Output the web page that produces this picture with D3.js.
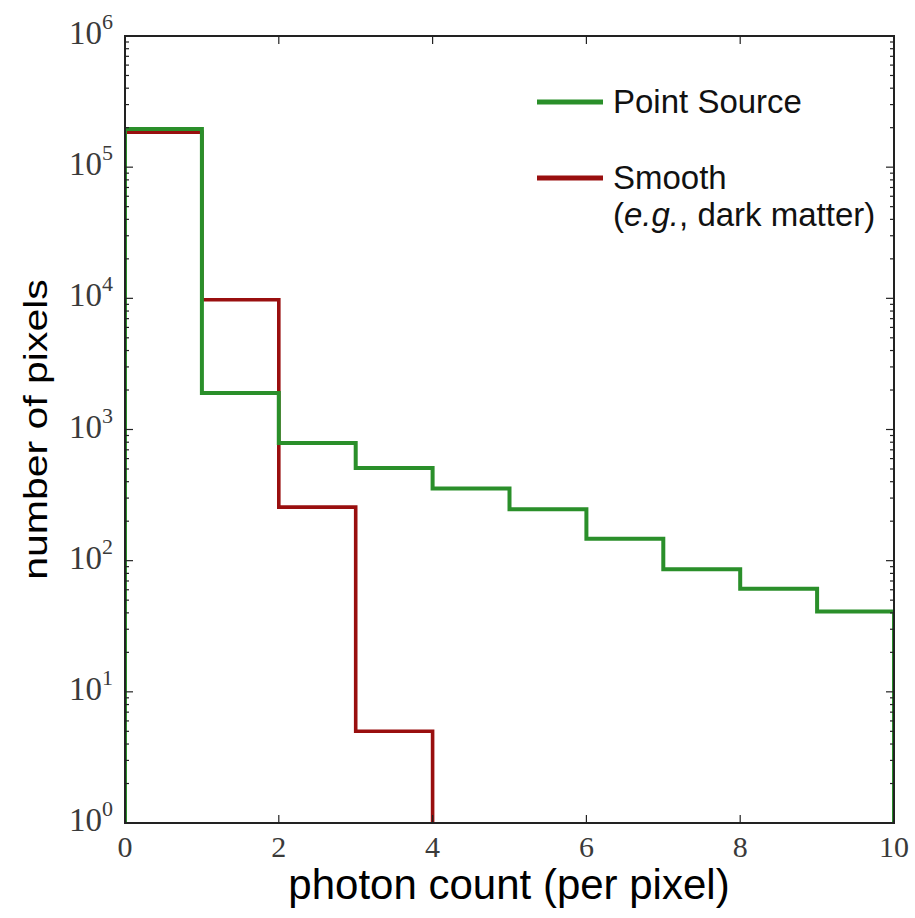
<!DOCTYPE html>
<html>
<head>
<meta charset="utf-8">
<script src="https://cdn.jsdelivr.net/npm/d3@7"></script>
<style>
  html, body { margin: 0; padding: 0; background: #fff; }
  svg { display: block; }
</style>
</head>
<body>
<svg id="chart" width="915" height="918"></svg>
<script>
// ---- data ----
const binEdges = [0, 1, 2, 3, 4, 5, 6, 7, 8, 9, 10];
const pointSource = [195000, 1900, 790, 508, 355, 247, 147, 86, 61, 41];
const smooth = [185000, 9750, 256, 5, 0, 0, 0, 0, 0, 0];
const xTicks = [0, 2, 4, 6, 8, 10];
const yTickExponents = [0, 1, 2, 3, 4, 5, 6];
const seriesNames = ["Point Source", "Smooth"];
const seriesColors = ["#2a8f2a", "#990f0f"];

(function () {
// ---- layout ----
const pLeft = 125, pRight = 894, pTop = 36, pBottom = 823;
const svg = d3.select("#chart");
const x = d3.scaleLinear().domain([0, 10]).range([pLeft, pRight]);
const y = d3.scaleLog().domain([1, 1e6]).range([pBottom, pTop]);

const defs = svg.append("defs");
defs.append("clipPath").attr("id", "plotclip")
  .append("rect").attr("x", pLeft).attr("y", pTop)
  .attr("width", pRight - pLeft).attr("height", pBottom - pTop);

function stepPoints(vals) {
  const pts = [[x(binEdges[0]), y(1)]];
  let last = 0;
  vals.forEach((v, i) => { if (v > 0) last = i; });
  for (let i = 0; i <= last; i++) {
    pts.push([x(binEdges[i]), y(vals[i])]);
    pts.push([x(binEdges[i + 1]), y(vals[i])]);
  }
  pts.push([x(binEdges[last + 1]), y(1)]);
  return pts;
}
const line = d3.line();
const g = svg.append("g").attr("clip-path", "url(#plotclip)");
g.append("path").attr("d", line(stepPoints(smooth)))
  .attr("fill", "none").attr("stroke", seriesColors[1])
  .attr("stroke-width", 3.6).attr("stroke-linejoin", "miter");
g.append("path").attr("d", line(stepPoints(pointSource)))
  .attr("fill", "none").attr("stroke", seriesColors[0])
  .attr("stroke-width", 4).attr("stroke-linejoin", "miter");

// ---- ticks ----
const tickColor = "#222";
const ticksG = svg.append("g").attr("stroke", tickColor).attr("stroke-width", 1.2);
yTickExponents.forEach(e => {
  const v = Math.pow(10, e);
  const yy = y(v);
  ticksG.append("line").attr("x1", pLeft).attr("x2", pLeft + 8).attr("y1", yy).attr("y2", yy);
  ticksG.append("line").attr("x1", pRight).attr("x2", pRight - 8).attr("y1", yy).attr("y2", yy);
  if (e < 6) {
    for (let m = 2; m <= 9; m++) {
      const ym = y(m * v);
      ticksG.append("line").attr("x1", pLeft).attr("x2", pLeft + 4).attr("y1", ym).attr("y2", ym);
      ticksG.append("line").attr("x1", pRight).attr("x2", pRight - 4).attr("y1", ym).attr("y2", ym);
    }
  }
});
xTicks.forEach(t => {
  const xx = x(t);
  ticksG.append("line").attr("x1", xx).attr("x2", xx).attr("y1", pBottom).attr("y2", pBottom - 8);
  ticksG.append("line").attr("x1", xx).attr("x2", xx).attr("y1", pTop).attr("y2", pTop + 8);
});

// frame
svg.append("rect").attr("x", pLeft).attr("y", pTop)
  .attr("width", pRight - pLeft).attr("height", pBottom - pTop)
  .attr("fill", "none").attr("stroke", "#222").attr("stroke-width", 2);

// ---- tick labels ----
const serif = "'Liberation Serif', 'DejaVu Serif', serif";
const labelColor = "#3a3a3a";
xTicks.forEach(t => {
  svg.append("text").attr("x", x(t)).attr("y", 857)
    .attr("text-anchor", "middle").attr("font-family", serif)
    .attr("font-size", 30).attr("fill", labelColor).text(t);
});
yTickExponents.forEach(e => {
  const t = svg.append("text").attr("x", 113).attr("y", y(Math.pow(10, e)) + 8)
    .attr("text-anchor", "end").attr("font-family", serif)
    .attr("font-size", 33).attr("fill", labelColor);
  t.append("tspan").text("10");
  t.append("tspan").attr("font-size", 22).attr("dy", -15).text(e);
});

// ---- axis labels ----
const sans = "'Liberation Sans', Arial, Helvetica, sans-serif";
svg.append("text").attr("x", 509).attr("y", 899)
  .attr("text-anchor", "middle").attr("font-family", sans)
  .attr("font-size", 42).attr("fill", "#000").text("photon count (per pixel)");
svg.append("text")
  .attr("transform", `translate(47, ${(pTop + pBottom) / 2}) rotate(-90) scale(1, 0.8)`)
  .attr("text-anchor", "middle").attr("font-family", sans)
  .attr("font-size", 41).attr("fill", "#000").text("number of pixels");

// ---- legend ----
const legendX1 = 537, legendX2 = 603, textX = 613;
const legendY = [102, 178];
seriesNames.forEach((name, i) => {
  svg.append("line").attr("x1", legendX1).attr("x2", legendX2)
    .attr("y1", legendY[i]).attr("y2", legendY[i])
    .attr("stroke", seriesColors[i]).attr("stroke-width", 5);
  svg.append("text").attr("x", textX).attr("y", legendY[i] + 11)
    .attr("font-family", sans).attr("font-size", 33).attr("fill", "#111").text(name);
});
const sub = svg.append("text").attr("x", textX).attr("y", legendY[1] + 48)
  .attr("font-family", sans).attr("font-size", 33).attr("fill", "#111");
sub.append("tspan").text("(");
sub.append("tspan").attr("font-style", "italic").text("e.g.");
sub.append("tspan").text(", dark matter)");
})();
</script>
</body>
</html>
